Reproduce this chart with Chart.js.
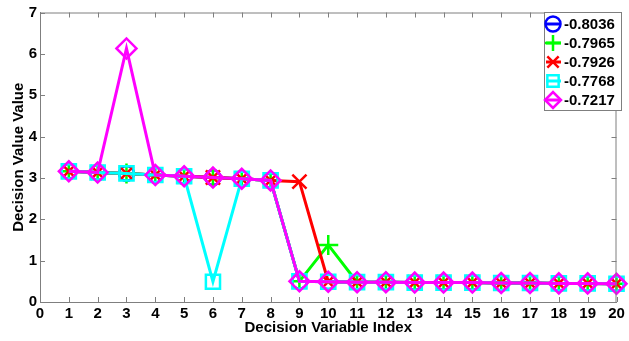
<!DOCTYPE html>
<html>
<head>
<meta charset="utf-8">
<script src="https://cdn.jsdelivr.net/npm/chart.js@4"></script>
<style>
  body { margin: 0; background: #fff; }
  #wrap { width: 629px; height: 341px; }
</style>
</head>
<body>
<div id="wrap"><canvas id="myChart" width="629" height="341"></canvas></div>
<script>
// decision variable index 1..20
const indices = [1, 2, 3, 4, 5, 6, 7, 8, 9, 10, 11, 12, 13, 14, 15, 16, 17, 18, 19, 20];
const seriesNames = ['-0.8036', '-0.7965', '-0.7926', '-0.7768', '-0.7217'];
const blueVals    = [3.16, 3.13, 3.11, 3.07, 3.04, 3.01, 2.98, 2.94, 0.50, 0.49, 0.48, 0.48, 0.47, 0.47, 0.47, 0.46, 0.46, 0.45, 0.45, 0.44];
const greenVals   = [3.16, 3.13, 3.11, 3.07, 3.04, 3.01, 2.98, 2.94, 0.50, 1.38, 0.48, 0.48, 0.47, 0.47, 0.47, 0.46, 0.46, 0.45, 0.45, 0.44];
const redVals     = [3.16, 3.13, 3.11, 3.07, 3.04, 3.01, 2.98, 2.94, 2.91, 0.49, 0.48, 0.48, 0.47, 0.47, 0.47, 0.46, 0.46, 0.45, 0.45, 0.44];
const cyanVals    = [3.16, 3.13, 3.11, 3.07, 3.04, 0.49, 2.98, 2.94, 0.50, 0.49, 0.48, 0.48, 0.47, 0.47, 0.47, 0.46, 0.46, 0.45, 0.45, 0.44];
const magentaVals = [3.16, 3.13, 6.13, 3.07, 3.04, 3.01, 2.98, 2.94, 0.50, 0.49, 0.48, 0.48, 0.47, 0.47, 0.47, 0.46, 0.46, 0.45, 0.45, 0.44];
const xTicks = [0, 20];
const yTicks = [0, 7];

const FONT = '"Liberation Sans", Arial, sans-serif';

function makeSet(i, vals, color, style, radius, order) {
    return {
        label: seriesNames[i],
        data: indices.map((x, k) => ({x: x, y: vals[k]})),
        borderColor: color,
        backgroundColor: color,
        pointBorderColor: color,
        pointBackgroundColor: 'rgba(0,0,0,0)',
        pointStyle: style,
        pointRadius: radius,
        pointBorderWidth: 2.5,
        borderWidth: 3,
        tension: 0,
        clip: false,
        order: order
    };
}

const datasets = [
    makeSet(0, blueVals, '#0000ff', 'circle', 7.5, 5),
    makeSet(1, greenVals, '#00ff00', 'cross', 10, 4),
    makeSet(2, redVals, '#ff0000', 'crossRot', 10, 3),
    makeSet(3, cyanVals, '#00ffff', 'rect', 10, 2),
    makeSet(4, magentaVals, '#ff00ff', 'rectRot', 10, 1)
];

// inward ticks, box and legend like the original figure
const boxPlugin = {
    id: 'boxPlugin',
    afterDraw(chart) {
        const ctx = chart.ctx;
        const a = chart.chartArea;
        const xs = chart.scales.x, ys = chart.scales.y;
        ctx.save();
        ctx.strokeStyle = '#7f7f7f';
        ctx.lineWidth = 1;
        ctx.beginPath();
        ctx.moveTo(a.left, a.top + 0.5); ctx.lineTo(a.right, a.top + 0.5);
        ctx.moveTo(a.right - 0.5, a.top); ctx.lineTo(a.right - 0.5, a.bottom);
        const tl = 5;
        xs.ticks.forEach(t => {
            const px = Math.round(xs.getPixelForValue(t.value)) + 0.5;
            ctx.moveTo(px, a.bottom); ctx.lineTo(px, a.bottom - tl);
            ctx.moveTo(px, a.top); ctx.lineTo(px, a.top + tl);
        });
        ys.ticks.forEach(t => {
            const py = Math.round(ys.getPixelForValue(t.value)) + 0.5;
            ctx.moveTo(a.left, py); ctx.lineTo(a.left + tl, py);
            ctx.moveTo(a.right, py); ctx.lineTo(a.right - tl, py);
        });
        ctx.stroke();

        // legend
        const lx = 544, ly = 12, lw = 77, lh = 98;
        ctx.fillStyle = '#fff';
        ctx.fillRect(lx, ly, lw, lh);
        ctx.strokeStyle = '#7f7f7f';
        ctx.strokeRect(lx + 0.5, ly + 0.5, lw, lh);
        chart.data.datasets.forEach((ds, i) => {
            const cy = 24 + i * 19;
            const cx = 553;
            ctx.strokeStyle = ds.borderColor;
            ctx.lineWidth = 3;
            ctx.beginPath();
            ctx.moveTo(546, cy); ctx.lineTo(561, cy);
            ctx.stroke();
            ctx.lineWidth = ds.pointBorderWidth;
            ctx.fillStyle = 'rgba(0,0,0,0)';
            Chart.helpers.drawPoint(ctx, {
                pointStyle: ds.pointStyle,
                radius: Math.min(ds.pointRadius, 8),
                rotation: 0,
                borderWidth: ds.pointBorderWidth
            }, cx, cy);
            ctx.fillStyle = '#000';
            ctx.font = 'bold 15px ' + FONT;
            ctx.textAlign = 'left';
            ctx.textBaseline = 'middle';
            ctx.fillText(ds.label, 564, cy + 1);
        });
        ctx.restore();
    }
};

const ctx = document.getElementById('myChart').getContext('2d');
const myChart = new Chart(ctx, {
    type: 'line',
    data: { datasets: datasets },
    options: {
        responsive: false,
        animation: false,
        layout: { padding: { top: 12, right: 9, left: 0, bottom: 0 } },
        plugins: {
            legend: { display: false },
            tooltip: { enabled: false }
        },
        scales: {
            x: {
                type: 'linear',
                min: xTicks[0],
                max: xTicks[1],
                afterFit: s => { s.height = 39; },
                ticks: { stepSize: 1, padding: 3, color: '#000', font: { family: FONT, size: 15, weight: 'bold' }, maxRotation: 0, autoSkip: false },
                grid: { drawOnChartArea: false, drawTicks: false },
                border: { color: '#7f7f7f', width: 1 },
                title: { display: true, text: 'Decision Variable Index', color: '#000', font: { family: FONT, size: 15, weight: 'bold' }, padding: { top: 0, bottom: 4 } }
            },
            y: {
                min: yTicks[0],
                max: yTicks[1],
                afterFit: s => { s.width = 40; },
                ticks: { stepSize: 1, padding: 3, color: '#000', font: { family: FONT, size: 15, weight: 'bold' } },
                grid: { drawOnChartArea: false, drawTicks: false },
                border: { color: '#7f7f7f', width: 1 },
                title: { display: true, text: 'Decision Value Value', color: '#000', font: { family: FONT, size: 15, weight: 'bold' }, padding: { top: 10, bottom: 0 } }
            }
        }
    },
    plugins: [boxPlugin]
});
</script>
</body>
</html>
